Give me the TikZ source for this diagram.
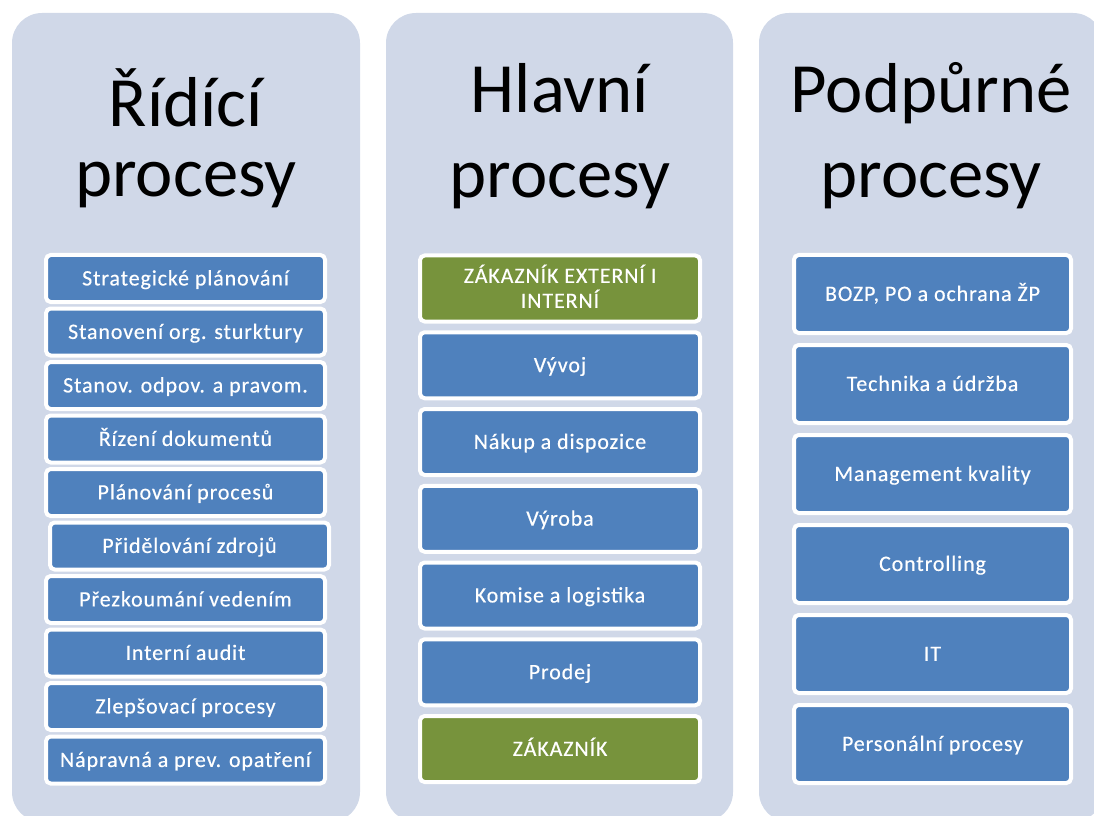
\documentclass[tikz,border=0pt]{standalone}
\usepackage{fontspec}
\setmainfont{Carlito}
\newfontfamily\boxfont[LetterSpace=4,FakeBold=0.4]{Carlito}
\definecolor{panelfill}{HTML}{D0D8E8}
\definecolor{procblue}{HTML}{4F81BD}
\definecolor{procgreen}{HTML}{77933C}
\tikzset{
  panel/.style={fill=panelfill, draw=none, rounded corners=22.5pt},
  title/.style={anchor=base, align=center, font=\fontsize{53}{64}\selectfont, inner sep=0pt},
  proc/.style={rectangle, rounded corners=3.5pt, draw=white, line width=3pt,
    fill=procblue, inner sep=0pt, text=white, align=center,
    text height=10.4pt, text depth=0pt,
    font=\boxfont\fontsize{16.5}{18.75}\selectfont},
  twoline/.style={text height=29.15pt},
  ctrlbox/.style={proc, minimum width=209.25pt, minimum height=35.25pt},
  mainbox/.style={proc, minimum width=210pt, minimum height=49.5pt},
  suppbox/.style={proc, minimum width=207.75pt, minimum height=58.5pt},
  green/.style={fill=procgreen}
}
\begin{document}
\begin{tikzpicture}[x=0.75pt, y=-0.75pt]
\useasboundingbox (0,0) rectangle (1094,816);
\begin{scope}
\clip (0,0) rectangle (1094,816);
% column panels
\fill[panel] (12,13) rectangle (360,822);
\fill[panel] (386,13) rectangle (733,822);
\fill[panel] (759,13) rectangle (1103,822);
\end{scope}

% column titles (anchored on the baseline of the second line)
\node[title] (tctrl) at (186,197) {Řídící\\[-11.25pt]procesy};
\node[title] (tmain) at (560,198) {Hlavní\\procesy};
\node[title] (tsupp) at (931,198) {Podpůrné\\procesy};

% control processes
\node[ctrlbox] (c1)  at (185.5,278.5) {Strategické plánování};
\node[ctrlbox] (c2)  at (185.5,332)   {Stanovení org. sturktury};
\node[ctrlbox] (c3)  at (185.5,385.5) {Stanov. odpov. a pravom.};
\node[ctrlbox] (c4)  at (185.5,439)   {Řízení dokumentů};
\node[ctrlbox] (c5)  at (185.5,492.5) {Plánování procesů};
\node[ctrlbox] (c6)  at (189.5,546)   {Přidělování zdrojů};
\node[ctrlbox] (c7)  at (185.5,599.5) {Přezkoumání vedením};
\node[ctrlbox] (c8)  at (185.5,653)   {Interní audit};
\node[ctrlbox] (c9)  at (185.5,706.5) {Zlepšovací procesy};
\node[ctrlbox] (c10) at (185.5,760)   {Nápravná a prev. opatření};

% main processes
\node[mainbox, green, twoline] (m1) at (560,288.5)  {ZÁKAZNÍK EXTERNÍ I\\INTERNÍ};
\node[mainbox] (m2) at (560,365.25) {Vývoj};
\node[mainbox] (m3) at (560,442)    {Nákup a dispozice};
\node[mainbox] (m4) at (560,518.75) {Výroba};
\node[mainbox] (m5) at (560,595.5)  {Komise a logistika};
\node[mainbox] (m6) at (560,672.25) {Prodej};
\node[mainbox, green] (m7) at (560,749) {ZÁKAZNÍK};

% support processes
\node[suppbox] (s1) at (932.5,294) {BOZP, PO a ochrana ŽP};
\node[suppbox] (s2) at (932.5,384) {Technika a údržba};
\node[suppbox] (s3) at (932.5,474) {Management kvality};
\node[suppbox] (s4) at (932.5,564) {Controlling};
\node[suppbox] (s5) at (932.5,654) {IT};
\node[suppbox] (s6) at (932.5,744) {Personální procesy};
\end{tikzpicture}
\end{document}
